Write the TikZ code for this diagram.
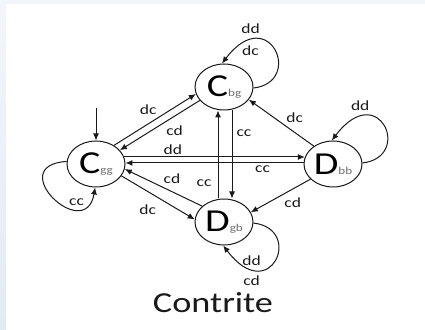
\documentclass[tikz,border=0pt]{standalone}
\usepackage{fontspec}
\setmainfont{Carlito}[FakeStretch=1.25]
\usetikzlibrary{arrows.meta,shapes.geometric}
\definecolor{Ink}{HTML}{1A1A1A}
\definecolor{Sub}{HTML}{6E6E6E}
\definecolor{Band}{HTML}{F2F6FA}
\definecolor{BandDark}{HTML}{E2EAF4}
\newcommand{\statename}[2]{{\fontsize{32}{32}\selectfont#1}{\fontsize{10.5}{10.5}\selectfont\color{Sub}#2}}

\begin{document}
\begin{tikzpicture}[x=1pt,y=1pt,
    state/.style={ellipse,draw=Ink,line width=1pt,minimum width=58pt,minimum height=46pt,inner sep=0pt},
    edge/.style={-{Latex[length=7pt,width=6pt]},line width=1pt,Ink},
    lbl/.style={font=\fontsize{14}{14}\selectfont,text=Ink,inner sep=2pt}]
  \useasboundingbox(0,0)rectangle(425,329);
  \fill[Band](0,0)rectangle(425,329);
  \shade[top color=Band,bottom color=BandDark](0,0)rectangle(6,325);
  \fill[white](6,0)rectangle(425,325);
  \node[state](Cgg)at(96,165){\statename{C}{gg}};
  \node[state](Cbg)at(224,242){\statename{C}{bg}};
  \node[state](Dbb)at(333,165){\statename{D}{bb}};
  \node[state](Dgb)at(224,107){\statename{D}{gb}};
  \node[font=\fontsize{29}{29}\selectfont,text=Ink](title)at(213,26){Contrite};
  \coordinate(init)at(96,221);
  \draw[edge](init)--(Cgg);
  \draw[edge](Cgg.46)--node[lbl,pos=.55,above left]{dc}(Cbg.194);
  \draw[edge](Cbg.209)--node[lbl,pos=.45,below right]{cd}(Cgg.30);
  \draw[edge](Cgg.14)--node[lbl,pos=.27,above]{dd}(Dbb.166);
  \draw[edge](Dbb.178)--node[lbl,pos=.23,below]{cc}(Cgg.2);
  \draw[edge](Dgb.144)--node[lbl,pos=.53,above right]{cd}(Cgg.350);
  \draw[edge](Cgg.335)--node[lbl,pos=.54,below left=2.5pt]{dc}(Dgb.175);
  \draw[edge]([xshift=-6pt]Dgb.north)--node[lbl,pos=.17,left=4pt]{cc}([xshift=-6pt]Cbg.south);
  \draw[edge]([xshift=8pt]Cbg.south)--node[lbl,pos=.26,right=2pt]{cc}([xshift=8pt]Dgb.north);
  \draw[edge](Dbb.137)--node[lbl,pos=.46,above right]{dc}(Cbg.333);
  \draw[edge](Dbb.214)--node[lbl,pos=.48,below right]{cd}(Dgb.20);
  \draw[edge](Cgg.175) .. controls +(-64,-4) and +(-10,-57) .. node[lbl,pos=.74,above]{cc}(Cgg.268);
  \draw[edge](Cbg.358) .. controls +(51,6) and +(47,62) .. node[lbl,pos=.78,above=5pt]{dd}node[lbl,pos=.78,below=2pt]{dc}(Cbg.95);
  \draw[edge](Dbb.2) .. controls +(51,6) and +(47,62) .. node[lbl,pos=.78,above=5pt]{dd}(Dbb.93);
  \draw[edge](Dgb.358) .. controls +(51,-6) and +(47,-62) .. node[lbl,pos=.78,above]{dd}node[lbl,pos=.78,below=5pt]{cd}(Dgb.268);
\end{tikzpicture}
\end{document}
